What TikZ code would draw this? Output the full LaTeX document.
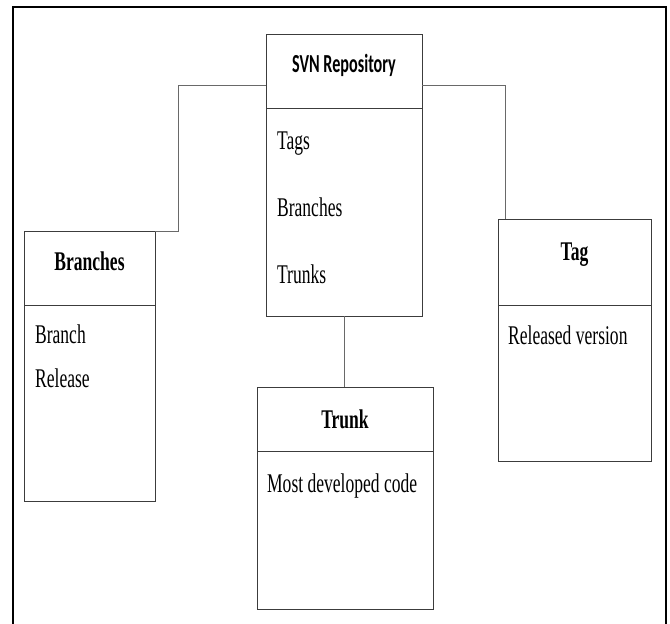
\documentclass[tikz,border=0pt]{standalone}
\usepackage{fontspec}
\setmainfont{Liberation Serif}
\newfontfamily\calibrifont{Carlito}
\usepackage{tikz}
\usetikzlibrary{positioning}
\definecolor{cLine}{RGB}{60,60,60}
\definecolor{cLink}{RGB}{105,105,105}
\tikzset{
	boxpart/.style ={rectangle, draw=cLine, line width=1pt, inner sep=0pt, outer sep=0pt},
	title/.style   ={anchor=base, inner sep=0pt, xscale=0.65, transform shape, font=\fontsize{27}{32}\selectfont\bfseries},
	item/.style    ={anchor=base west, inner sep=0pt, xscale=0.65, transform shape, font=\fontsize{27}{32}\selectfont},
	link/.style    ={draw=cLink, line width=1pt},
	frame/.style   ={draw=black, line width=2pt},
}

\begin{document}
\begin{tikzpicture}[x=1pt, y=-1pt]
	\useasboundingbox (0,0) rectangle (670,624);
	\draw[frame] (13,624) |- (666,7) -- (666,624);
	% repository
	\node[boxpart, anchor=north west, minimum width=156pt, minimum height=74pt] (svnh) at (266,34) {};
	\node[boxpart, anchor=north, minimum width=156pt, minimum height=208pt] (svnb) at (svnh.south) {};
	\node[title, xscale=0.955, font=\calibrifont\fontsize{26}{30}\selectfont\bfseries] (svnt) at ([yshift=-38pt]svnh.north) {SVN Repository};
	\node[item] (tags) at ([xshift=11pt, yshift=-41pt]svnb.north west) {Tags};
	\node[item] (brs) at ([xshift=11pt, yshift=-108pt]svnb.north west) {Branches};
	\node[item] (trs) at ([xshift=11pt, yshift=-175pt]svnb.north west) {Trunks};
	% branches
	\node[boxpart, anchor=north west, minimum width=131pt, minimum height=74pt] (brh) at (24,231) {};
	\node[boxpart, anchor=north, minimum width=131pt, minimum height=196pt] (brb) at (brh.south) {};
	\node[title] (brt) at ([yshift=-39pt]brh.north) {Branches};
	\node[item] (branch) at ([xshift=11pt, yshift=-38pt]brb.north west) {Branch};
	\node[item] (release) at ([xshift=11pt, yshift=-82pt]brb.north west) {Release};
	% tag
	\node[boxpart, anchor=north west, minimum width=153pt, minimum height=86pt] (tagh) at (498,219) {};
	\node[boxpart, anchor=north, minimum width=153pt, minimum height=156pt] (tagb) at (tagh.south) {};
	\node[title] (tagt) at ([yshift=-41pt]tagh.north) {Tag};
	\node[item] (relv) at ([xshift=10pt, yshift=-39pt]tagb.north west) {Released version};
	% trunk
	\node[boxpart, anchor=north west, minimum width=176pt, minimum height=64pt] (trh) at (257,387) {};
	\node[boxpart, anchor=north, minimum width=176pt, minimum height=158pt] (trb) at (trh.south) {};
	\node[title] (trt) at ([yshift=-41pt]trh.north) {Trunk};
	\node[item] (devc) at ([xshift=10pt, yshift=-41pt]trb.north west) {Most developed code};
	% links
	\draw[link] ([yshift=-14pt]svnh.west) -| ([xshift=23pt]brh.north east) -- (brh.north east);
	\draw[link] ([yshift=-14pt]svnh.east) -| ([xshift=7pt]tagh.north west);
	\draw[link] (svnb.south) -- (svnb.south |- trh.north);
\end{tikzpicture}
\end{document}
